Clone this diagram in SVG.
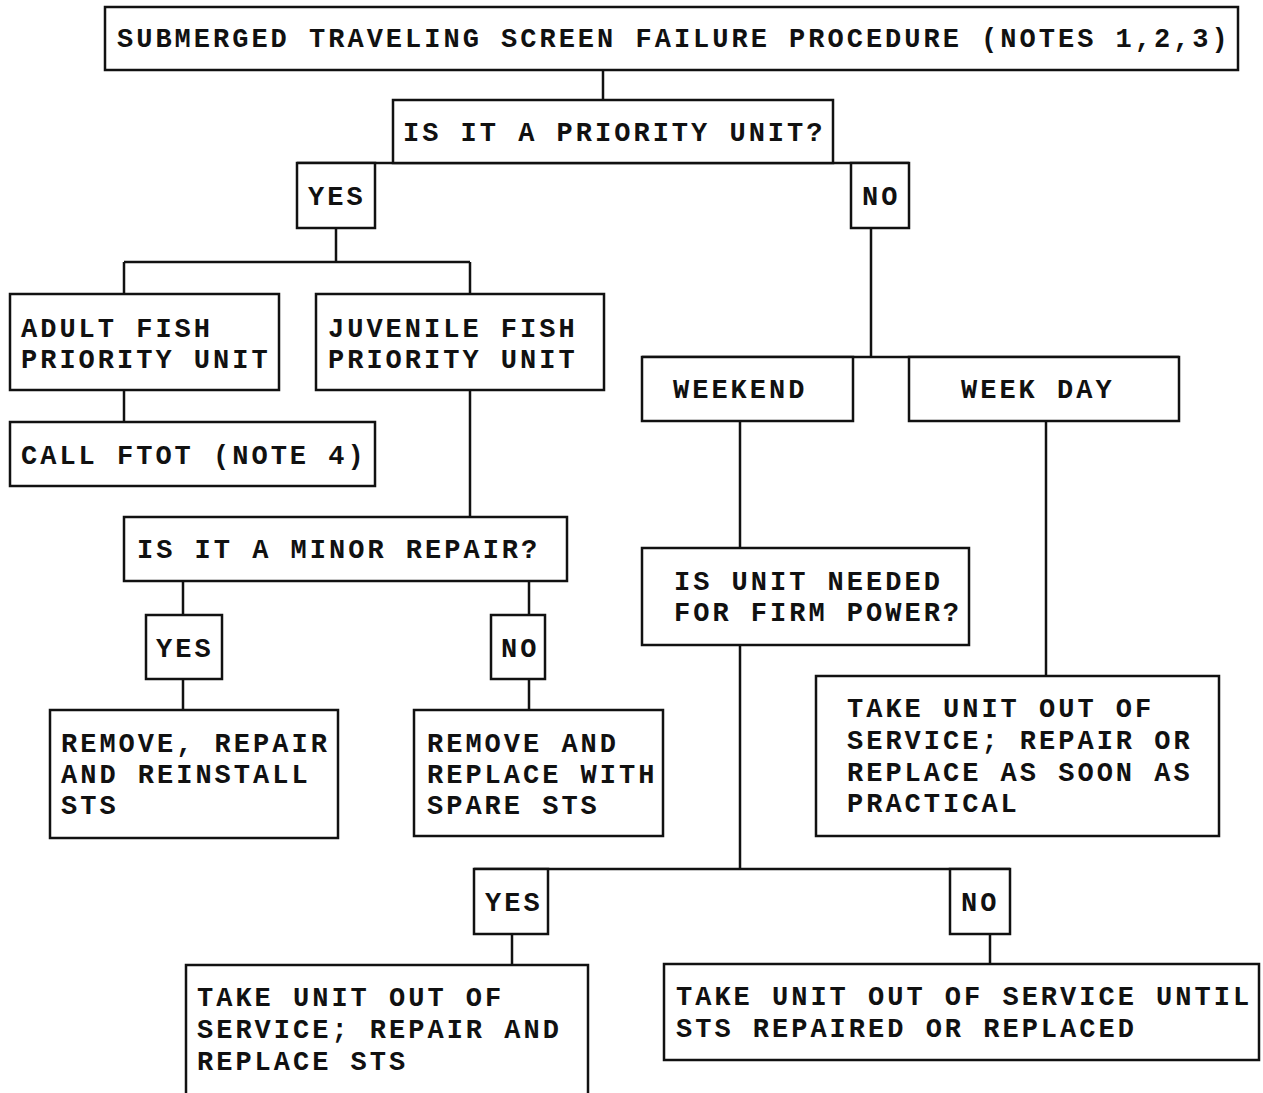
<svg xmlns="http://www.w3.org/2000/svg" width="1263" height="1093" viewBox="0 0 1263 1093">
<style>
.box{fill:#fff;stroke:#111;stroke-width:2.5}
.t{font-family:"Liberation Mono","Courier New",monospace;font-weight:bold;font-size:27px;letter-spacing:3px;fill:#111}
.c{fill:none;stroke:#111;stroke-width:2.5}
</style>
<rect width="1263" height="1093" fill="#fff"/>
<g id="connectors">
<path class="c" d="M603,70V100"/>
<path class="c" d="M297,163H909"/>
<path class="c" d="M336,228V262M124,262H470M124,262V294M470,262V294"/>
<path class="c" d="M124,390V422"/>
<path class="c" d="M470,390V517"/>
<path class="c" d="M183,581V615M529,581V615"/>
<path class="c" d="M183,679V710M529,679V710"/>
<path class="c" d="M871,228V357M642,357H1179"/>
<path class="c" d="M740,421V548"/>
<path class="c" d="M1046,421V676"/>
<path class="c" d="M740,645V869M474,869H1010"/>
<path class="c" d="M512,934V965M990,934V964"/>
</g>
<g id="title"><rect class="box" x="105" y="7" width="1133" height="63"/><text class="t" x="117" y="47">SUBMERGED TRAVELING SCREEN FAILURE PROCEDURE (NOTES 1,2,3)</text></g>
<g id="priority"><rect class="box" x="393" y="100" width="440" height="63"/><text class="t" x="403" y="141">IS IT A PRIORITY UNIT?</text></g>
<g id="yes1"><rect class="box" x="297" y="163" width="78" height="65"/><text class="t" x="308" y="205">YES</text></g>
<g id="no1"><rect class="box" x="851" y="163" width="58" height="65"/><text class="t" x="862" y="205">NO</text></g>
<g id="adult"><rect class="box" x="10" y="294" width="269" height="96"/><text class="t" x="21" y="337">ADULT FISH</text><text class="t" x="21" y="368">PRIORITY UNIT</text></g>
<g id="juvenile"><rect class="box" x="316" y="294" width="288" height="96"/><text class="t" x="328" y="337">JUVENILE FISH</text><text class="t" x="328" y="368">PRIORITY UNIT</text></g>
<g id="ftot"><rect class="box" x="10" y="422" width="365" height="64"/><text class="t" x="21" y="464">CALL FTOT (NOTE 4)</text></g>
<g id="minor"><rect class="box" x="124" y="517" width="443" height="64"/><text class="t" x="137" y="558">IS IT A MINOR REPAIR?</text></g>
<g id="yes2"><rect class="box" x="146" y="615" width="76" height="64"/><text class="t" x="156" y="657">YES</text></g>
<g id="no2"><rect class="box" x="491" y="615" width="54" height="64"/><text class="t" x="501" y="657">NO</text></g>
<g id="repair"><rect class="box" x="50" y="710" width="288" height="128"/><text class="t" x="61" y="752">REMOVE, REPAIR</text><text class="t" x="61" y="783">AND REINSTALL</text><text class="t" x="61" y="814">STS</text></g>
<g id="replace"><rect class="box" x="414" y="710" width="249" height="126"/><text class="t" x="427" y="752">REMOVE AND</text><text class="t" x="427" y="783">REPLACE WITH</text><text class="t" x="427" y="814">SPARE STS</text></g>
<g id="weekend"><rect class="box" x="642" y="357" width="211" height="64"/><text class="t" x="673" y="398">WEEKEND</text></g>
<g id="weekday"><rect class="box" x="909" y="357" width="270" height="64"/><text class="t" x="961" y="398">WEEK DAY</text></g>
<g id="firm"><rect class="box" x="642" y="548" width="327" height="97"/><text class="t" x="674" y="590">IS UNIT NEEDED</text><text class="t" x="674" y="621">FOR FIRM POWER?</text></g>
<g id="practical"><rect class="box" x="816" y="676" width="403" height="160"/><text class="t" x="847" y="717">TAKE UNIT OUT OF</text><text class="t" x="847" y="749">SERVICE; REPAIR OR</text><text class="t" x="847" y="781">REPLACE AS SOON AS</text><text class="t" x="847" y="812">PRACTICAL</text></g>
<g id="yes3"><rect class="box" x="474" y="869" width="74" height="65"/><text class="t" x="485" y="911">YES</text></g>
<g id="no3"><rect class="box" x="950" y="869" width="60" height="65"/><text class="t" x="961" y="911">NO</text></g>
<g id="outrepair"><rect class="box" x="186" y="965" width="402" height="140"/><text class="t" x="197" y="1006">TAKE UNIT OUT OF</text><text class="t" x="197" y="1038">SERVICE; REPAIR AND</text><text class="t" x="197" y="1070">REPLACE STS</text></g>
<g id="until"><rect class="box" x="664" y="964" width="595" height="96"/><text class="t" x="676" y="1005">TAKE UNIT OUT OF SERVICE UNTIL</text><text class="t" x="676" y="1037">STS REPAIRED OR REPLACED</text></g>
</svg>
